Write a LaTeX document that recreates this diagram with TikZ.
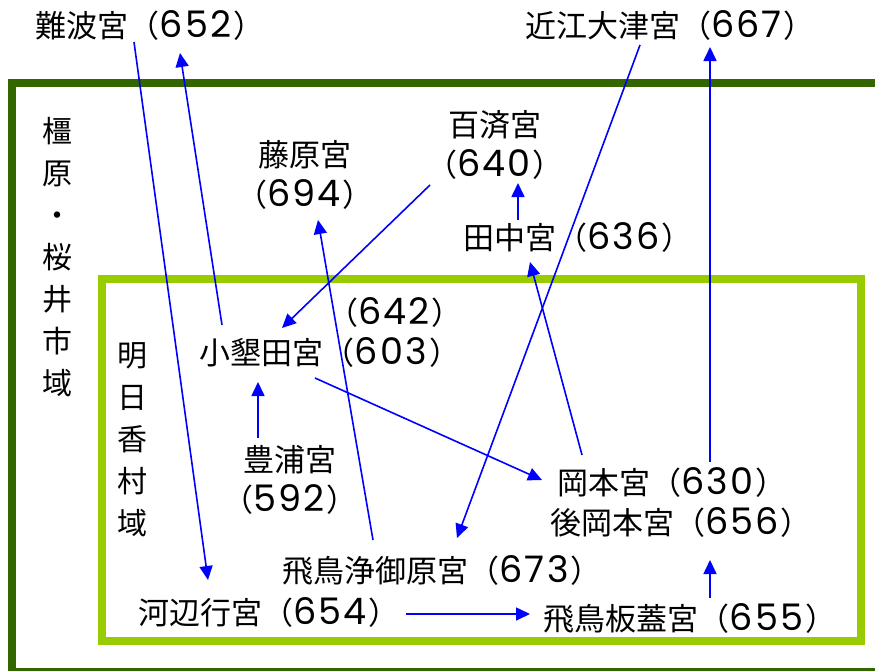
\documentclass[tikz,border=0pt]{standalone}
\usepackage{fontspec}
\setmainfont{Noto Sans CJK JP}
\newfontfamily\digfont{Poppins}[Scale=1.18, LetterSpace=6]
\newcommand{\yr}[1]{（{\digfont #1}\hspace{2pt}）}
\usetikzlibrary{arrows.meta}
\definecolor{darkgreen}{RGB}{51,102,0}
\definecolor{lightgreen}{RGB}{153,204,0}
\begin{document}
\begin{tikzpicture}[x=1pt,y=-1pt,
  lbl/.style={inner sep=0pt, align=center, font=\fontsize{31}{40}\selectfont},
  vlbl/.style={inner sep=0pt, align=center, font=\fontsize{30}{42}\selectfont},
  arr/.style={draw=blue, line width=1.6pt, -{Triangle[length=14pt,width=13pt]}},
  frameout/.style={draw=darkgreen, line width=8pt},
  framein/.style={draw=lightgreen, line width=8pt}]
\useasboundingbox (0,0) rectangle (875,670);
\path[fill=white] (0,0) rectangle (875,670);
\draw[frameout] (12,83) rectangle (900,672);
\draw[framein] (102,279) rectangle (861,641);

\node[vlbl] (kashihara) at (57,257) {橿\\原\\・\\桜\\井\\市\\域};
\node[vlbl] (asuka) at (132,440) {明\\日\\香\\村\\域};

\node[lbl] (n652) at (150,25) {難波宮\yr{652}};
\node[lbl] (n667) at (670,25) {近江大津宮\yr{667}};
\node[lbl] (n694) at (305,175) {藤原宮\\\yr{694}};
\node[lbl] (n640) at (495,145) {百済宮\\\yr{640}};
\node[lbl] (n636) at (578,237) {田中宮\yr{636}};
\node[lbl] (n642) at (395,312) {\yr{642}};
\node[lbl] (n603) at (330,352) {小墾田宮\yr{603}};
\node[lbl] (n592) at (290,480) {豊浦宮\\\yr{592}};
\node[lbl] (n630) at (672,482) {岡本宮\yr{630}};
\node[lbl] (n656) at (681,522) {後岡本宮\yr{656}};
\node[lbl] (n673) at (442,570) {飛鳥浄御原宮\yr{673}};
\node[lbl] (n654) at (269,612) {河辺行宮\yr{654}};
\node[lbl] (n655) at (690,618) {飛鳥板蓋宮\yr{655}};

\draw[arr] ([shift={(-108,-27)}]n603.center) -- ([shift={(30,28)}]n652.center);
\draw[arr] ([shift={(-16,17)}]n652.center) -- ([shift={(-61,-32)}]n654.center);
\draw[arr] ([shift={(-65,40)}]n640.center) -- ([shift={(-48,-24)}]n603.center);
\draw[arr] ([shift={(-60,-17)}]n636.center) -- ([shift={(23,38)}]n640.center);
\draw[arr] ([shift={(-30,20)}]n667.center) -- ([shift={(15,-32)}]n673.center);
\draw[arr] ([shift={(38,-20)}]n630.center) -- ([shift={(40,22)}]n667.center);
\draw[arr] ([shift={(-69,-30)}]n673.center) -- ([shift={(13,45)}]n694.center);
\draw[arr] ([shift={(-90,-27)}]n630.center) -- ([shift={(-48,25)}]n636.center);
\draw[arr] ([shift={(-15,26)}]n603.center) -- ([shift={(-130,-2)}]n630.center);
\draw[arr] ([shift={(-32,-42)}]n592.center) -- ([shift={(-72,30)}]n603.center);
\draw[arr] ([shift={(137,2)}]n654.center) -- ([shift={(-160,-4)}]n655.center);
\draw[arr] ([shift={(20,-20)}]n655.center) -- ([shift={(29,38)}]n656.center);
\end{tikzpicture}
\end{document}
